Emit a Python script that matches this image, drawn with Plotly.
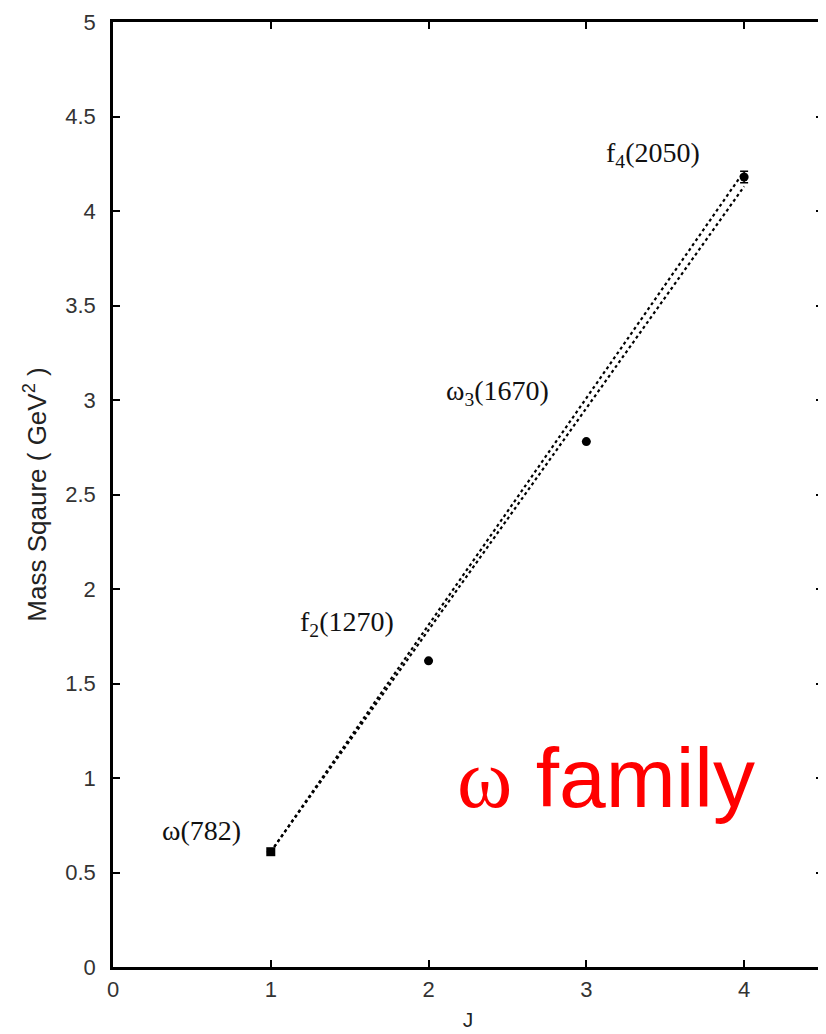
import plotly.graph_objects as go

# Data
J = [1, 2, 3, 4]
mass_sq = [0.61, 1.62, 2.78, 4.18]
mass_err = [0, 0, 0, 0.03]
marker_symbols = ["square", "circle", "circle", "circle"]

fit_J = [1, 4]
fit1 = [0.61, 4.21]
fit2 = [0.61, 4.13]

label_text = ["ω(782)", "f<sub>2</sub>(1270)", "ω<sub>3</sub>(1670)", "f<sub>4</sub>(2050)"]
label_x = [0.56, 1.48, 2.44, 3.42]
label_y = [0.72, 1.82, 3.04, 4.30]

x_ticks = [0, 1, 2, 3, 4]
y_ticks = [0, 0.5, 1, 1.5, 2, 2.5, 3, 3.5, 4, 4.5, 5]
y_tick_text = ["0", "0.5", "1", "1.5", "2", "2.5", "3", "3.5", "4", "4.5", "5"]

fig = go.Figure()

fig.add_trace(go.Scatter(x=fit_J, y=fit1, mode="lines",
                         line=dict(color="black", width=2.2, dash="dot"),
                         showlegend=False, hoverinfo="skip"))
fig.add_trace(go.Scatter(x=fit_J, y=fit2, mode="lines",
                         line=dict(color="black", width=2.2, dash="dot"),
                         showlegend=False, hoverinfo="skip"))
fig.add_trace(go.Scatter(x=J, y=mass_sq, mode="markers",
                         marker=dict(color="black", size=9, symbol=marker_symbols),
                         error_y=dict(type="data", array=mass_err, color="black",
                                      thickness=1.5, width=4),
                         showlegend=False))

for t, x, y in zip(label_text, label_x, label_y):
    fig.add_annotation(x=x, y=y, text=t, showarrow=False,
                       font=dict(family="Liberation Serif", size=28, color="#111"))

fig.add_annotation(x=2.17, y=1.0, xanchor="left", yanchor="middle",
                   text='<span style="font-family:Liberation Serif">ω</span> family',
                   showarrow=False,
                   font=dict(family="Liberation Sans", size=84, color="#ff0000"))

axis_common = dict(showline=True, linecolor="black", linewidth=2.5, mirror="ticks",
                   ticks="inside", ticklen=7, tickwidth=1.5, tickcolor="black",
                   showgrid=False, zeroline=False,
                   tickfont=dict(family="Liberation Sans", size=22, color="#333"))

fig.update_xaxes(range=[0, 4.5], tickvals=x_ticks, ticktext=[str(v) for v in x_ticks],
                 title=dict(text="J", font=dict(family="Liberation Sans", size=21, color="#222"),
                            standoff=12),
                 ticklabelstandoff=1,
                 **axis_common)
fig.update_yaxes(range=[0, 5], tickvals=y_ticks, ticktext=y_tick_text,
                 title=dict(text="Mass Sqaure ( GeV<sup>2</sup> )",
                            font=dict(family="Liberation Sans", size=26, color="#222"),
                            standoff=12),
                 ticklabelstandoff=10,
                 **axis_common)

# the page body has an 8px margin, so the figure is sized and offset to compensate
fig.update_layout(width=818, height=1026, margin=dict(l=105, r=0, t=14, b=67),
                  plot_bgcolor="white", paper_bgcolor="white")

fig.write_html("out.html")
